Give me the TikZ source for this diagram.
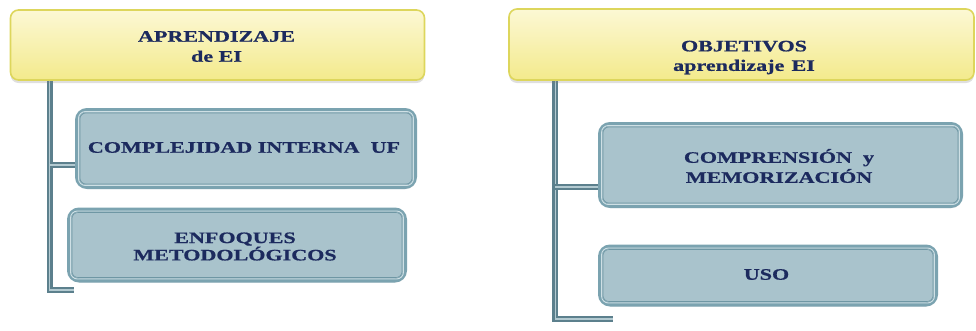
\documentclass[tikz,border=0pt]{standalone}
\usepackage{fontspec}
\newfontfamily\lbl[FakeStretch=1.38, BoldFeatures={FakeBold=0.8}]{Liberation Serif}
\usetikzlibrary{shadows,backgrounds}
\definecolor{navy}{HTML}{1C2A5E}
\definecolor{ylight}{HTML}{FCF8D4}
\definecolor{ydark}{HTML}{F3EA8C}
\definecolor{yborder}{HTML}{DDD65C}
\definecolor{bfill}{HTML}{A9C3CC}
\definecolor{bborder}{HTML}{7BA3B0}
\definecolor{blight}{HTML}{CFE0E5}
\definecolor{bdark}{HTML}{6F97A4}
\definecolor{cdark}{HTML}{5C808D}
\definecolor{clight}{HTML}{B3CAD1}
\tikzset{
  topbox/.style={draw=yborder, line width=1.6pt, rounded corners=8pt,
    top color=ylight, bottom color=ydark,
    drop shadow={shadow xshift=0pt, shadow yshift=-3pt, opacity=0.25}},
  subbox/.style={draw=bborder, line width=4pt, rounded corners=10pt, fill=bfill,
    drop shadow={shadow xshift=1pt, shadow yshift=-2pt, opacity=0.15}},
  innerlight/.style={draw=blight, line width=0.9pt, rounded corners=7pt},
  innerdark/.style={draw=bdark, line width=0.6pt, rounded corners=6pt},
  conn/.style={draw=cdark, line width=2.2pt, double=clight, double distance=1.2pt},
  txt/.style={text=navy, font=\lbl\bfseries\fontsize{16}{20}\selectfont, align=center, inner sep=0pt},
}
\begin{document}
\begin{tikzpicture}[x=1pt,y=-1pt]
\useasboundingbox (0,0) rectangle (976,330);

% top boxes
\node[topbox, minimum width=414pt, minimum height=70pt] (t1) at (217.5,45) {};
\node[topbox, minimum width=465pt, minimum height=71pt] (t2) at (741.5,44.5) {};
\node[txt] (t1txt) at (216.5,46.5) {APRENDIZAJE\\de EI};
\node[txt, font=\lbl\bfseries\fontsize{16}{19.5}\selectfont] (t2txt) at (744,57.5) {OBJETIVOS\\aprendizaje\hspace{0.45em}EI};

% sub boxes
\node[subbox, minimum width=338pt, minimum height=77pt] (b1) at (246,148.5) {};
\node[subbox, minimum width=336pt, minimum height=71pt] (b2) at (237,245) {};
\node[subbox, minimum width=361pt, minimum height=82pt] (b3) at (780.5,165) {};
\node[subbox, minimum width=336pt, minimum height=58pt] (b4) at (768,275.5) {};

\foreach \b in {b1,b2,b3,b4}{
  \draw[innerlight] ([xshift=3.5pt,yshift=-3.5pt]\b.north west) rectangle ([xshift=-3.5pt,yshift=3.5pt]\b.south east);
  \draw[innerdark] ([xshift=5pt,yshift=-5pt]\b.north west) rectangle ([xshift=-5pt,yshift=5pt]\b.south east);
}

\node[txt] (b1txt) at (244,147.5) {COMPLEJIDAD INTERNA~~UF};
\node[txt, font=\lbl\bfseries\fontsize{16}{14.5}\selectfont] (b2txt) at (235,246.5) {ENFOQUES\\METODOLÓGICOS};
\node[txt] (b3txt) at (779,166) {COMPRENSIÓN~~y\\MEMORIZACIÓN};
\node[txt] (b4txt) at (766.5,274.5) {USO};

% connectors
\coordinate (end1) at (74,290);
\coordinate (end2) at (613,319);
\begin{pgfonlayer}{background}
\draw[conn] ([xshift=40pt]t1.south west) |- (end1);
\draw[conn] ([xshift=40pt]t1.south west |- b1.west) ++(0pt,-16.5pt) coordinate (br1s) -- (br1s -| b1.west);
\draw[conn] ([xshift=47pt]t2.south west) |- (end2);
\draw[conn] ([xshift=47pt]t2.south west |- b3.west) ++(0pt,-22pt) coordinate (br3s) -- (br3s -| b3.west);
\end{pgfonlayer}
\end{tikzpicture}
\end{document}
